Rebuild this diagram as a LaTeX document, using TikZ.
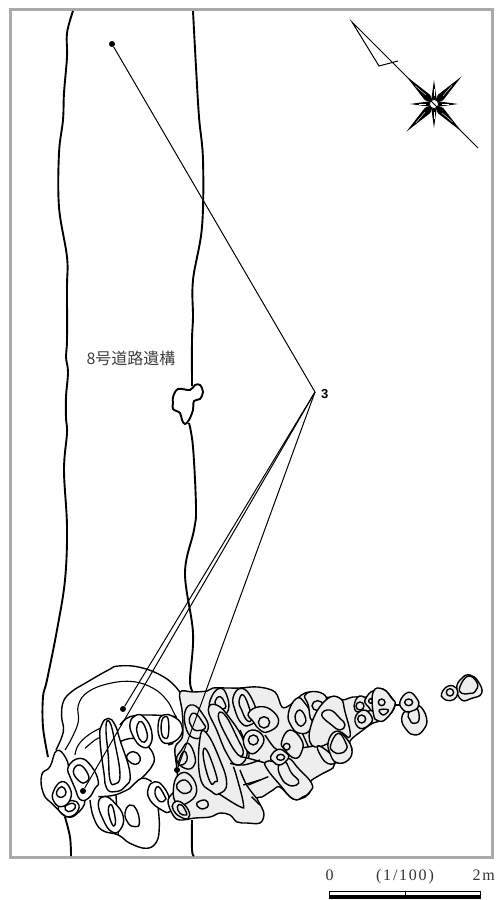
\documentclass[tikz,border=0pt]{standalone}
\usepackage{fontspec}
\setmainfont{Liberation Serif}
\newfontfamily\cjkfont{Noto Sans CJK JP}
\newfontfamily\numfont{Liberation Sans}
\newfontfamily\scalefont[LetterSpace=11]{Liberation Serif}
\usetikzlibrary{arrows.meta}
\definecolor{pitgrey}{HTML}{EEEEEE}
\definecolor{framegrey}{HTML}{AAAAAA}
\tikzset{
  roadline/.style={line width=1.9pt,tension=.6},
  pitline/.style={line width=1.4pt,draw=black,fill=white},
  pitgreyline/.style={line width=1.4pt,draw=black,fill=pitgrey},
  wallline/.style={line width=1.4pt},
  thinwall/.style={line width=1.1pt},
  leader/.style={line width=1pt},
  leaderdot/.style={circle,fill=black,inner sep=0pt,minimum size=6pt},
  scalelabel/.style={font=\scalefont\fontsize{16}{16}\selectfont,text=black!80,inner sep=0pt,anchor=base},
  cropA/.style={shift={(30,660)},x=.3333pt,y=-.3333pt},
  cropB/.style={shift={(240,650)},x=.3333pt,y=-.3333pt},
}
\newcommand\pit[2][pitline]{\path[#1] plot[smooth cycle,tension=.8] coordinates {#2};}
\newcommand\wall[2][wallline]{\draw[#1] plot[smooth,tension=.7] coordinates {#2};}
\begin{document}
\begin{tikzpicture}[x=1pt,y=-1pt]
  \useasboundingbox (0,0) rectangle (496,900);
  \draw[framegrey,line width=3pt] (10.5,9.5) rectangle (492.5,857);
  % road edges
  \draw[roadline] plot[smooth] coordinates {(73,11) (67,33) (67,57) (64,93) (63,120) (59,153) (59,207) (67,257) (67,287) (67,340) (66,357) (68,372) (66,397) (66,418) (67,433) (64,470) (67,527) (65,580) (57,630) (47,680) (43,697) (43,727) (48,757)};
  \draw[roadline] plot[smooth] coordinates {(193,11) (196,67) (199,117) (203,160) (202,227) (193,280) (193,317) (192,340) (192,386)};
  \draw[roadline] plot[smooth] coordinates {(189,423) (193,447) (196,507) (194,530) (185,573) (193,633) (190,680) (193,692)};
  \draw[roadline] plot[smooth] coordinates {(65,817) (70,837) (71,856)};
  \draw[roadline] plot[smooth] coordinates {(192,820) (192,850) (194,856)};
  % blob on the road
  \path[pitline,line width=1.9pt] plot[smooth cycle,tension=.6] coordinates {(173,397) (178,389) (190,390) (195,385) (200,385) (203,392) (200,399) (194,401) (193,410) (189,420) (185,424) (182,420) (180,413) (173,409) (173,403)};
  % pit walls, white part
  \begin{scope}[cropA]
    \wall{(78,270) (100,215) (95,170) (100,125) (125,95) (165,70) (235,30) (265,18) (330,22) (400,50) (445,90) (460,125) (462,165)}
    \wall[thinwall]{(105,270) (125,235) (145,185) (145,135) (175,95) (240,70) (310,65) (370,85) (410,120) (430,155) (440,175)}
    \wall[thinwall]{(135,285) (145,255) (175,225) (210,205)}
    \wall[thinwall]{(165,265) (195,240) (215,230)}
    \wall{(180,420) (190,470) (215,510) (265,525) (300,550) (350,565) (380,545) (388,500) (385,450)}
    \wall{(265,525) (258,405)}
    \wall{(300,385) (335,355) (365,365)}
    \wall{(205,410) (255,405) (300,385)}
    \wall{(270,245) (310,235) (350,255) (372,290) (365,320) (335,355)}
    \wall{(270,195) (300,170) (360,165) (440,170)}
    \wall{(385,450) (388,400)}
    \wall{(430,250) (415,255)}
    \pit{(215,195) (235,175) (255,195) (270,240) (300,340) (285,380) (255,395) (230,385) (222,340) (210,240)}
    \pit{(228,200) (240,188) (255,250) (270,345) (255,372) (240,360) (235,290)}
    \pit{(300,190) (320,165) (345,175) (365,215) (360,255) (335,260) (310,230)}
    \pit{(322,195) (335,185) (350,215) (350,240) (335,245) (322,220)}
    \pit{(385,190) (400,165) (430,170) (455,195) (450,230) (415,250) (390,235)}
    \pit{(395,185) (405,170) (415,180) (415,225) (405,235) (395,220)}
    \pit{(290,290) (310,275) (330,290) (325,310) (305,310)}
    \pit{(205,430) (225,410) (255,430) (280,470) (270,510) (245,515) (220,480)}
    \pit{(235,450) (245,435) (255,470) (255,495) (245,490)}
    \pit{(285,460) (300,435) (320,450) (328,490) (315,500) (295,490)}
    \pit{(355,385) (375,365) (400,380) (420,420) (420,455) (395,450) (360,420)}
    \pit{(375,400) (385,380) (405,410) (405,420) (390,425)}
    % west end
    \pit{(60,320) (80,272) (108,295) (120,340) (135,380) (165,420) (140,462) (110,470) (85,450) (65,430) (40,400) (35,345)}
    \pit{(115,320) (150,295) (185,320) (205,365) (195,385) (175,415) (150,418) (135,385) (122,355)}
    \pit{(130,335) (150,315) (175,345) (170,365) (150,365)}
    \pit{(85,440) (110,425) (140,425) (145,450) (120,470) (95,460)}
    \pit{(105,440) (130,430) (135,445) (115,455)}
    \pit{(70,395) (95,365) (120,385) (120,420) (95,440) (72,425)}
    \pit{(80,395) (95,380) (108,395) (100,410) (85,410)}
  \end{scope}
  % grey part of the pits
  \path[pitgreyline] plot[smooth cycle,tension=.6] coordinates {(240,688) (258,687) (275,692) (282,707) (290,705) (298,698) (305,693) (317,692) (325,697) (337,697) (343,700) (353,697) (367,697) (373,691) (383,689) (392,698) (395,705) (392,712) (383,720) (373,723) (363,730) (350,741) (352,750) (347,760) (335,763) (333,768) (320,775) (310,782) (311,790) (305,797) (293,799) (280,787) (273,790) (262,797) (257,798) (262,808) (264,815) (260,823) (247,823) (237,822) (230,815) (220,813) (210,817) (195,818) (180,820) (173,815) (168,800) (177,787) (177,770) (175,748) (182,738) (183,725) (182,710) (180,692) (193,692) (207,691) (213,688) (227,688)};
  \begin{scope}[cropA]
    \pit[pitgreyline]{(465,155) (490,135) (520,165) (535,200) (520,225) (495,235) (470,210)}
    \pit[pitgreyline]{(478,175) (495,160) (520,190) (525,205) (500,212) (485,200)}
    \pit[pitgreyline]{(540,150) (545,110) (570,85) (590,105) (595,150) (570,165)}
    \pit[pitgreyline]{(555,125) (570,110) (585,130) (585,145) (565,145)}
    \pit[pitgreyline]{(535,150) (560,135) (600,175) (640,240) (650,290) (620,315) (590,280) (560,210)}
    \pit[pitgreyline]{(565,170) (585,165) (625,240) (640,275) (625,285) (590,230)}
    \pit[pitgreyline]{(610,110) (635,85) (665,115) (680,170) (660,195) (635,190) (615,150)}
    \pit[pitgreyline]{(627,125) (640,105) (660,150) (665,180) (650,180) (635,150)}
    \pit[pitgreyline]{(510,235) (530,220) (570,300) (590,370) (570,400) (545,395) (510,350)}
    \pit[pitgreyline]{(520,290) (530,270) (560,350) (555,365) (540,365)}
    \pit[pitgreyline]{(440,300) (455,270) (475,250) (495,290) (490,320) (465,325)}
    \pit[pitgreyline]{(445,310) (460,275) (472,290) (465,310) (450,315)}
    \pit[pitgreyline]{(430,390) (445,345) (480,345) (500,395) (470,430) (440,430)}
    \pit[pitgreyline]{(440,375) (465,360) (485,385) (470,400) (450,395)}
    \pit[pitgreyline]{(430,430) (450,425) (475,450) (475,475) (450,470) (430,450)}
    \pit[pitgreyline]{(442,440) (455,435) (470,460) (465,465) (450,460)}
    \pit[pitgreyline]{(500,430) (525,420) (535,435) (525,445) (510,445)}
    \wall[wallline]{(565,400) (630,440) (640,430) (620,350) (610,320)}
    \wall[wallline]{(640,375) (690,360)}
    \wall[wallline]{(665,410) (690,435)}
    \wall[wallline]{(600,310) (640,315) (690,300)}
  \end{scope}
  \begin{scope}[cropB]
    \wall[wallline]{(25,405) (85,380)}
    \wall[wallline]{(0,360) (20,405) (50,445)}
    \wall[wallline]{(0,320) (25,325) (80,340)}
    \wall[wallline]{(0,240) (25,300) (25,325)}
    \wall[wallline]{(75,255) (100,290) (115,300)}
    \wall[wallline]{(160,297) (210,290) (235,285)}
    \wall[wallline]{(185,245) (205,290)}
    \wall[wallline]{(465,165) (480,165)}
    \pit[pitgreyline]{(25,190) (60,170) (100,185) (115,220) (85,245) (60,240) (40,215)}
    \draw[wallline] (72,217) circle[radius=17];
    \pit[pitgreyline]{(10,270) (35,240) (70,260) (60,295) (30,310)}
    \draw[wallline] (40,270) circle[radius=15];
    \pit[pitgreyline]{(145,190) (170,145) (195,160) (215,200) (210,240) (180,250) (155,230)}
    \pit[pitgreyline]{(165,200) (180,180) (197,205) (190,225) (175,225)}
    \pit[pitgreyline]{(195,135) (230,125) (260,145) (240,175) (215,210) (205,165)}
    \draw[wallline] (233,167) ellipse[x radius=17,y radius=15];
    \pit[pitgreyline]{(215,220) (258,150) (300,145) (315,185) (330,260) (295,245) (265,280) (215,285)}
    \pit[pitgreyline]{(245,195) (270,180) (300,205) (315,225) (300,240) (275,225)}
    \pit[pitgreyline]{(232,288) (270,310) (285,338) (255,335)}
    \pit[pitgreyline]{(265,275) (285,245) (310,255) (335,295) (325,330) (290,338) (270,310)}
    \pit[pitgreyline]{(272,285) (295,250) (318,280) (318,300) (300,310) (280,305)}
    \pit[pitgreyline]{(125,275) (150,240) (185,270) (185,305) (165,325) (135,300)}
    \draw[wallline] (140,290) circle[radius=10];
    \pit[pitgreyline]{(78,335) (100,335) (120,345) (145,325) (175,355) (215,400) (210,425) (190,440) (160,447) (120,405) (80,355)}
    \pit[pitgreyline]{(115,350) (135,335) (155,370) (175,390) (170,405) (145,405) (125,385)}
    \pit[pitgreyline]{(92,320) (115,298) (140,310) (145,325) (120,345) (100,335)}
    \draw[wallline] (122,322) ellipse[x radius=12,y radius=9];
    % east end
    \pit[pitgreyline]{(345,155) (365,138) (395,165) (395,180) (360,185) (345,180)}
    \draw[wallline] (360,168) circle[radius=12];
    \pit[pitgreyline]{(345,205) (370,180) (395,200) (390,222) (360,235)}
    \draw[wallline] (365,207) circle[radius=12];
    \pit[pitgreyline]{(375,150) (400,125) (400,180) (385,170)}
    \draw[wallline] (393,153) circle[radius=7];
    \pit[pitgreyline]{(400,125) (430,118) (455,145) (465,165) (440,205) (415,213) (400,190)}
    \draw[wallline] (425,157) circle[radius=10];
    \pit[pitgreyline]{(418,180) (445,180) (430,195)}
    \pit[pitgreyline]{(485,205) (505,175) (535,165) (560,205) (550,240) (525,255) (500,240)}
    \pit[pitgreyline]{(505,190) (530,175) (537,210) (520,220) (510,210)}
    \pit[pitgreyline]{(480,155) (505,127) (530,145) (535,170) (510,185) (490,180)}
    \draw[wallline] (506,157) ellipse[x radius=12,y radius=10];
    \pit[pitgreyline]{(650,115) (665,85) (690,75) (715,95) (725,130) (695,145) (665,150)}
    \pit[pitgreyline]{(660,110) (685,78) (712,100) (705,125) (690,130) (665,130)}
    \pit[pitgreyline]{(605,130) (625,108) (650,115) (650,140) (630,152) (610,145)}
    \draw[wallline] (630,127) circle[radius=11];
  \end{scope}
  % north mark
  \coordinate (northtop) at (352,22);
  \coordinate (northend) at (478,148);
  \coordinate (barbfoot) at (379,66);
  \coordinate (barbtip) at (398,61);
  \draw[line width=1pt] (barbtip) -- (barbfoot) -- (northtop) -- (northend);
  \begin{scope}[shift={(434,104)}]
    \foreach \a in {45,135,225,315}
    {	\fill (\a-22:10pt) -- (\a:39pt) -- (\a+22:10pt) -- (0,0) -- cycle;
      \draw[white,line width=.4pt] (\a-3:12pt) -- (\a+1:26pt);
    }
    \foreach \a in {0,90,180,270}
    {	\fill (\a-20:7pt) -- (\a:24pt) -- (\a+20:7pt) -- (0,0) -- cycle;
      \draw[white,line width=.4pt] (\a:8pt) -- (\a:15pt);
    }
    \draw[line width=.7pt,fill=white] (0,0) circle[radius=4.5pt];
    \draw[line width=.8pt] (-45:4.5pt) -- (135:4.5pt);
  \end{scope}
  % leaders
  \node[leaderdot] (dotroad) at (112,44) {};
  \node[leaderdot] (dotmid) at (123,709) {};
  \node[leaderdot] (dotwest) at (83,791) {};
  \node[leaderdot] (doteast) at (177,770) {};
  \coordinate (apex) at (315,392);
  \node[font=\numfont\bfseries\fontsize{13}{13}\selectfont,anchor=west,inner sep=0pt] (three) at (321,394) {3};
  \foreach \u in {dotroad,dotmid,dotwest,doteast}
  {	\draw[leader] (\u) -- (apex);
  }
  % labels
  \node[font=\cjkfont\fontsize{16}{16}\selectfont,text=black!75,inner sep=0pt] (roadname) at (131,358) {8号道路遺構};
  \node[scalelabel] (scalezero) at (329.5,880) {0};
  \node[scalelabel] (scaleratio) at (405,880) {(1/100)};
  \node[scalelabel,anchor=base east] (scaleend) at (495,880) {2m};
  % scale bar
  \coordinate (barleft) at (329.5,891);
  \coordinate (barmid) at (405,891);
  \coordinate (barright) at (480.5,891);
  \draw[line width=1pt] ([yshift=-8pt]barleft) -- (barleft) -- (barright) -- ([yshift=-8pt]barright);
  \draw[line width=1pt] (barmid) -- ([yshift=-4pt]barmid);
  \draw[line width=4pt] ([yshift=-6pt]barleft) -- ([yshift=-6pt]barright);
\end{tikzpicture}
\end{document}
